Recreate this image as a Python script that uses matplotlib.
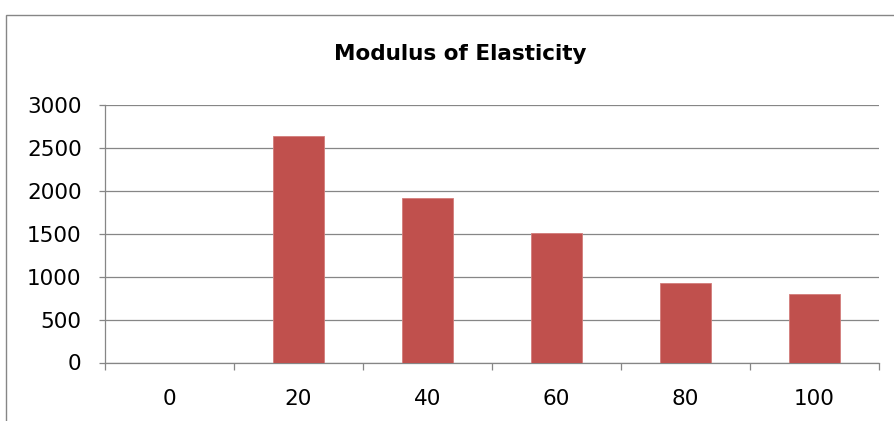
import numpy as np
import matplotlib
matplotlib.use("Agg")
import matplotlib.pyplot as plt
from matplotlib.patches import Rectangle

# data
categories = ["0", "20", "40", "60", "80", "100"]
modulus = [0, 2635, 1920, 1505, 930, 797]
y_ticks = [0, 500, 1000, 1500, 2000, 2500, 3000]

bar_color = "#C0504D"
grid_color = "#868686"

plt.rcParams["font.family"] = ["DejaVu Sans"]

fig = plt.figure(figsize=(8.95, 4.21), dpi=100)
W, H = 895, 421

# chart frame (left and top edges visible, rest cut off)
fig.patches.append(Rectangle((6 / W, -0.1), 1.2, (421 - 15) / H + 0.1,
                             transform=fig.transFigure, fill=False,
                             edgecolor=grid_color, linewidth=1.0))

ax = fig.add_axes([105 / W, (421 - 362.5) / H, 774 / W, 257.5 / H])
x = np.arange(len(categories))
ax.bar(x, modulus, width=0.395, color=bar_color, edgecolor="#D37C7A",
       linewidth=0.6, zorder=3)

ax.set_xlim(-0.5, len(categories) - 0.5)
ax.set_ylim(0, 3000)
ax.set_yticks(y_ticks)
ax.set_yticklabels([str(v) for v in y_ticks], fontsize=15.5)
ax.yaxis.grid(True, color=grid_color, linewidth=0.9, zorder=0)

# ticks on category boundaries, labels at centers
ax.set_xticks(np.arange(-0.5, len(categories)), minor=False)
ax.set_xticklabels([])
ax.set_xticks(x, minor=True)
ax.set_xticklabels(categories, minor=True, fontsize=15.5)
ax.tick_params(axis="x", which="major", length=5, color=grid_color, width=0.9)
ax.tick_params(axis="x", which="minor", length=0, pad=19)
ax.tick_params(axis="y", length=4.3, color=grid_color, width=0.9, pad=12.5)

for s in ["top", "right"]:
    ax.spines[s].set_visible(False)
for s in ["left", "bottom"]:
    ax.spines[s].set_color(grid_color)
    ax.spines[s].set_linewidth(0.9)

fig.text(460 / W, 1 - 54 / H, "Modulus of Elasticity", ha="center",
         va="center", fontsize=15.5, fontweight="bold")

fig.savefig("out.png", dpi=100)
